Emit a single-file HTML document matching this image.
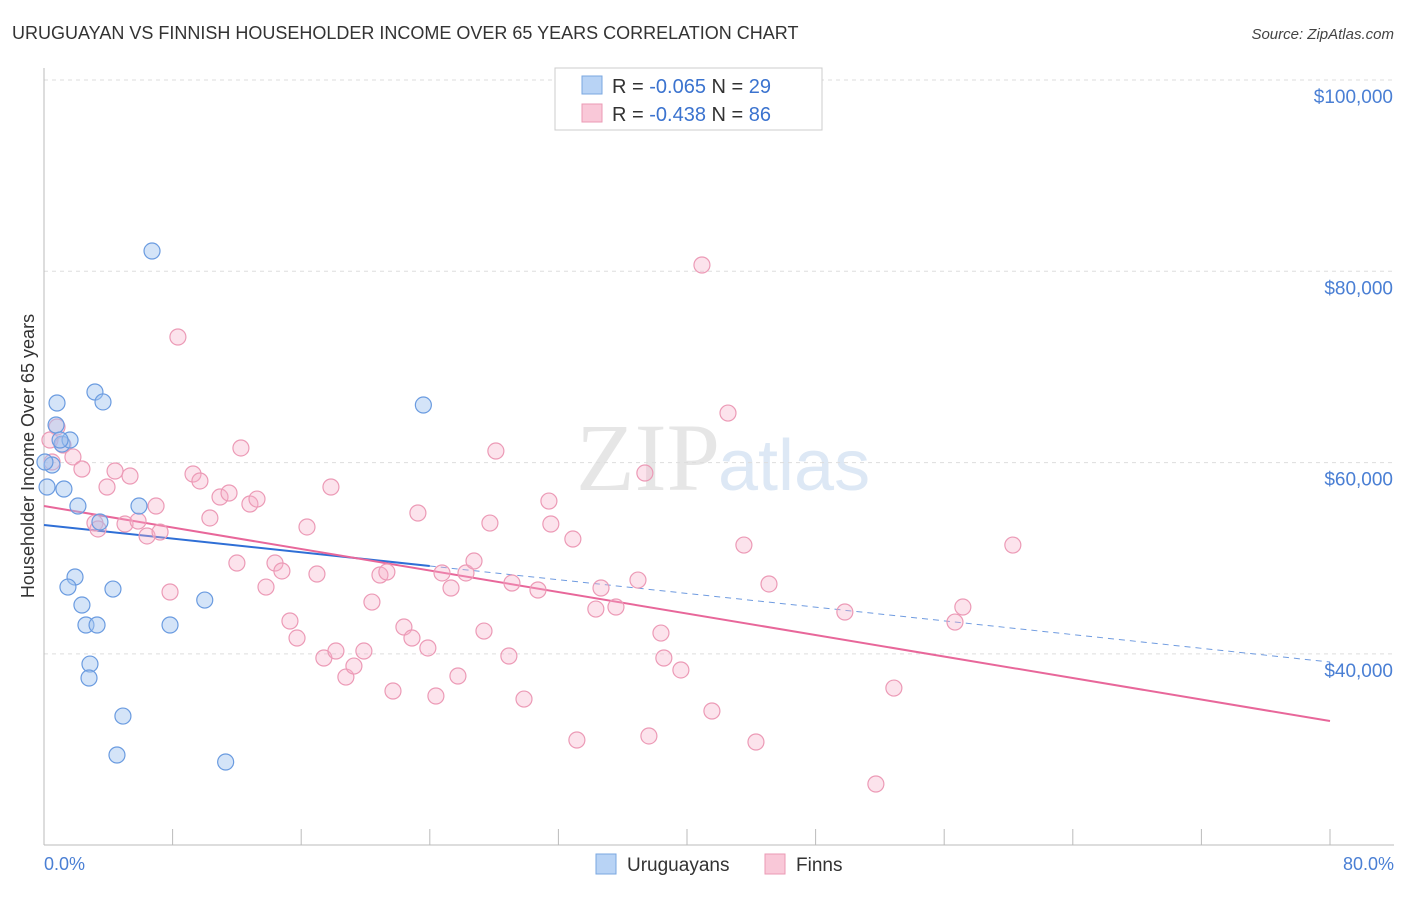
<!DOCTYPE html>
<html><head><meta charset="utf-8"><style>
body{margin:0;background:#fff;font-family:"Liberation Sans",sans-serif}
</style></head><body>
<svg id="chart" width="1406" height="892" xmlns="http://www.w3.org/2000/svg" font-family="Liberation Sans, sans-serif">
<text x="12" y="39" font-size="18" fill="#333">URUGUAYAN VS FINNISH HOUSEHOLDER INCOME OVER 65 YEARS CORRELATION CHART</text>
<text x="1394" y="39" font-size="15" fill="#444" text-anchor="end" font-style="italic">Source: ZipAtlas.com</text>
<text x="720" y="490" font-size="96" fill="#e6e6e6" text-anchor="end" font-family="Liberation Serif, serif">ZIP</text>
<text x="718" y="490" font-size="72" fill="#dde8f5">atlas</text>
<g id="grid"></g><g id="axes"></g><g id="lines"></g><g id="pts"></g>
<text transform="translate(34,456) rotate(-90)" font-size="18" fill="#333" text-anchor="middle">Householder Income Over 65 years</text>
<text x="44" y="870" font-size="18" fill="#4a7fd4">0.0%</text>
<text x="1394" y="870" font-size="18" fill="#4a7fd4" text-anchor="end">80.0%</text>
<g>
<rect x="555" y="68" width="267" height="62" fill="#fff" stroke="#ccc"/>
<rect x="582" y="76" width="20" height="18" fill="#b8d3f5" stroke="#7aa7e0"/>
<rect x="582" y="104" width="20" height="18" fill="#f9c8d8" stroke="#eb9ab4"/>
<text x="612" y="93" font-size="20" fill="#333">R = <tspan fill="#3b73cf">-0.065</tspan>   N = <tspan fill="#3b73cf">29</tspan></text>
<text x="612" y="121" font-size="20" fill="#333">R = <tspan fill="#3b73cf">-0.438</tspan>   N = <tspan fill="#3b73cf">86</tspan></text>
</g>
<g>
<rect x="596" y="854" width="20" height="20" fill="#b8d3f5" stroke="#7aa7e0"/>
<text x="627" y="871" font-size="19" fill="#333">Uruguayans</text>
<rect x="765" y="854" width="20" height="20" fill="#f9c8d8" stroke="#eb9ab4"/>
<text x="796" y="871" font-size="19" fill="#333">Finns</text>
</g>
</svg>
<script>
const yTicks=[100000,80000,60000,40000];
const yTickLabels=["$100,000","$80,000","$60,000","$40,000"];
const xTicks=[0,8,16,24,32,40,48,56,64,72,80];
const blueX=[0.19,0.5,0.81,0.75,1.12,1.62,1.24,2.11,3.17,3.67,3.48,1.93,1.49,2.36,2.61,3.30,4.29,2.86,2.80,4.91,4.54,6.72,5.91,7.84,10.0,11.3,23.6,0.06,1.0];
const blueY=[57450,59750,66230,63930,61940,62360,57240,55460,67380,66340,53790,48040,46990,45110,43020,43020,46780,38940,37480,33500,29430,82120,55460,43020,45630,28700,66020,60060,62360];
const pinkX=[0.81,1.18,1.80,2.36,3.92,4.42,5.35,3.17,3.36,5.04,5.85,6.41,6.97,7.22,7.84,8.33,9.27,9.70,10.32,10.95,11.51,12.25,12.81,13.25,12.0,13.81,14.37,14.80,15.30,15.74,16.36,16.98,17.41,17.85,18.16,18.78,19.28,19.90,20.40,20.90,21.33,21.71,22.39,22.89,23.26,23.88,24.38,24.76,25.32,25.75,26.25,26.75,27.37,27.74,28.11,28.92,29.11,29.86,30.73,31.41,31.53,32.90,33.15,34.33,34.65,35.58,36.95,37.38,37.63,38.38,38.56,39.62,40.93,41.55,42.55,43.54,44.29,45.10,49.82,51.75,52.87,56.67,57.16,60.27,0.37,0.5];
const pinkY=[63720,61840,60590,59330,57450,59120,58600,53680,53060,53580,53890,52330,55460,52740,46470,73130,58810,58080,54210,56400,56820,61530,55670,56190,49500,46990,49500,48670,43440,41660,53270,48350,39570,57450,40300,37580,38730,40300,45420,48250,48560,36120,42810,41660,54730,40620,35600,48460,46890,37690,48460,49710,42390,53680,61210,39780,47410,35280,46680,55980,53580,52010,31000,44690,46890,44900,47720,58910,31420,42180,39570,38320,80660,34030,65180,51380,30790,47310,44380,26400,36430,43330,44900,51380,62360,60060];
const blueTrend=[[0,53480],[24,49190],[80,39150]];
const pinkTrend=[[0,55460],[80,32980]];
const NS="http://www.w3.org/2000/svg";
const sx=v=>44+v/80*1286;
const sy=v=>80+(100000-v)/20000*191.3;
function mk(p,t,a){const e=document.createElementNS(NS,t);for(const k in a)e.setAttribute(k,a[k]);document.getElementById(p).appendChild(e);return e;}
yTicks.forEach((t,i)=>{
 const g=mk('grid','line',{x1:44,x2:1394,y1:sy(t),y2:sy(t),stroke:'#ddd','stroke-dasharray':'4,4'});
 
 
 const l=mk('grid','text',{x:1393,y:sy(t)+23,'font-size':19,fill:'#4a7fd4','text-anchor':'end'});
 l.textContent=yTickLabels[i];
 
 
});
const ax=mk('axes','line',{x1:44,x2:44,y1:68,y2:845,stroke:'#bbb'});


const bx=mk('axes','line',{x1:44,x2:1394,y1:845,y2:845,stroke:'#bbb'});


xTicks.forEach(t=>{
 const k=mk('axes','line',{x1:sx(t),x2:sx(t),y1:829,y2:845,stroke:'#bbb'});
 
 
});
let b1=mk('lines','line',{x1:sx(blueTrend[0][0]),y1:sy(blueTrend[0][1]),x2:sx(blueTrend[1][0]),y2:sy(blueTrend[1][1]),stroke:'#2f6fd6','stroke-width':2});


let b2=mk('lines','line',{x1:sx(blueTrend[1][0]),y1:sy(blueTrend[1][1]),x2:sx(blueTrend[2][0]),y2:sy(blueTrend[2][1]),stroke:'#6f9be0','stroke-width':1,'stroke-dasharray':'6,5'});


let p1=mk('lines','line',{x1:sx(pinkTrend[0][0]),y1:sy(pinkTrend[0][1]),x2:sx(pinkTrend[1][0]),y2:sy(pinkTrend[1][1]),stroke:'#e8679a','stroke-width':2});


pinkX.forEach((x,i)=>{
 const c=mk('pts','circle',{cx:sx(x),cy:sy(pinkY[i]),r:8,fill:'rgba(247,176,200,0.35)',stroke:'#ec9ab6','stroke-width':1.2});
 
 
});
blueX.forEach((x,i)=>{
 const c=mk('pts','circle',{cx:sx(x),cy:sy(blueY[i]),r:8,fill:'rgba(160,196,240,0.45)',stroke:'#6a9be0','stroke-width':1.2});
 
 
});
</script>
</body></html>
